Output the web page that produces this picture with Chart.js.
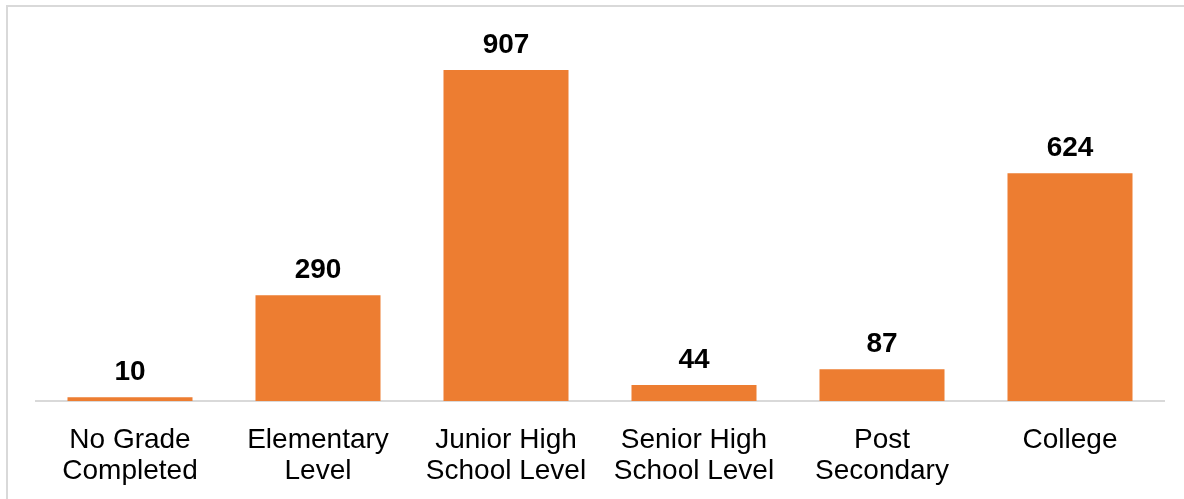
<!DOCTYPE html>
<html>
<head>
<meta charset="utf-8">
<script src="https://cdn.jsdelivr.net/npm/chart.js@4/dist/chart.umd.min.js"></script>
<style>
  html, body { margin: 0; padding: 0; background: #fff; overflow: hidden; }
  #frame {
    position: absolute; left: 6px; top: 5px; width: 1300px; height: 600px;
    border: 2px solid #d9d9d9; box-sizing: border-box;
  }
  #wrap { position: absolute; left: 0; top: 0; width: 1184px; height: 499px; }
</style>
</head>
<body>
<div id="frame"></div>
<div id="wrap"><canvas id="myChart"></canvas></div>
<script>
const categories = [
    ['No Grade', 'Completed'],
    ['Elementary', 'Level'],
    ['Junior High', 'School Level'],
    ['Senior High', 'School Level'],
    ['Post', 'Secondary'],
    ['College']
];
const counts = [10, 290, 907, 44, 87, 624];

const FONT = '"Liberation Sans", Arial, Helvetica, sans-serif';

// value labels above each bar
const valueLabels = {
    id: 'valueLabels',
    afterDatasetsDraw(chart) {
        const ctx = chart.ctx;
        const meta = chart.getDatasetMeta(0);
        ctx.save();
        ctx.font = 'bold 28px ' + FONT;
        ctx.fillStyle = '#000';
        ctx.textAlign = 'center';
        ctx.textBaseline = 'alphabetic';
        meta.data.forEach(function (bar, i) {
            ctx.fillText(String(counts[i]), bar.x, bar.y - 17);
        });
        ctx.restore();
    }
};

const data = {
    labels: categories,
    datasets: [{
        data: counts,
        backgroundColor: '#ED7D31',
        borderWidth: 0,
        barPercentage: 0.665,
        categoryPercentage: 1
    }]
};

const config = {
    type: 'bar',
    data: data,
    options: {
        responsive: true,
        maintainAspectRatio: false,
        animation: false,
        layout: { padding: { left: 36, right: 20, top: 36, bottom: 0 } },
        plugins: {
            legend: { display: false },
            tooltip: { enabled: false }
        },
        scales: {
            x: {
                grid: { display: true, drawOnChartArea: false, drawTicks: false },
                border: { display: true, color: '#d9d9d9', width: 2 },
                ticks: {
                    color: '#000',
                    font: { family: FONT, size: 28, lineHeight: 1.107 },
                    padding: 24,
                    maxRotation: 0,
                    autoSkip: false
                },
                afterFit: function (scale) { scale.height = 98; }
            },
            y: {
                display: false,
                min: 0,
                max: 1000
            }
        }
    },
    plugins: [valueLabels]
};

const myChart = new Chart(document.getElementById('myChart'), config);
</script>
</body>
</html>
